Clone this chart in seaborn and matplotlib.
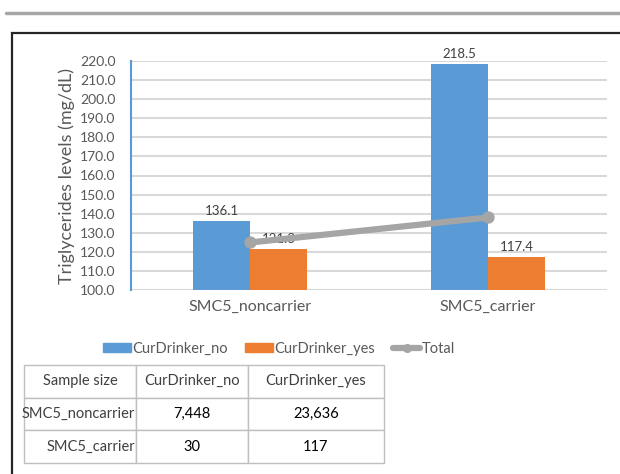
import matplotlib
matplotlib.use("Agg")
import matplotlib.pyplot as plt
import seaborn as sns
import pandas as pd
from matplotlib.lines import Line2D
from matplotlib.patches import Patch, Rectangle

# data
groups = ["SMC5_noncarrier", "SMC5_carrier"]
drinker = ["CurDrinker_no", "CurDrinker_yes"]
tg_no = [136.1, 218.5]
tg_yes = [121.3, 117.4]
tg_total = [124.9, 138.0]
n_no = ["7,448", "30"]
n_yes = ["23,636", "117"]
yticks = [100 + 10 * i for i in range(13)]

blue, orange, grey = "#5b9bd5", "#ed7d31", "#a5a5a5"

sns.set_theme(style="white")
plt.rcParams["font.family"] = ["Lato", "DejaVu Sans"]

bars = pd.DataFrame({
    "group": groups * 2,
    "drinker": [drinker[0]] * 2 + [drinker[1]] * 2,
    "value": tg_no + tg_yes,
})
tot = pd.DataFrame({"group": groups, "value": tg_total})

fig = plt.figure(figsize=(6.2, 4.74), dpi=100)
ax = fig.add_axes([131 / 620, 1 - 290 / 474, 476 / 620, 229 / 474])

sns.barplot(data=bars, x="group", y="value", hue="drinker", order=groups,
            hue_order=drinker, palette=[blue, orange], saturation=1,
            width=0.48, linewidth=0, ax=ax, legend=False, zorder=2)
for c in ax.containers:
    ax.bar_label(c, fmt="%.1f", padding=3, fontsize=9.5, color="#404040")

sns.pointplot(data=tot, x="group", y="value", order=groups, color=grey,
              markers="o", markersize=5.5, linewidth=4.5, ax=ax,
              solid_capstyle="round")
for ln in ax.lines:
    ln.set_zorder(4)

ax.set_ylim(100, 220)
ax.set_xlim(-0.5, 1.5)
ax.set_yticks(yticks)
ax.set_yticklabels([f"{v:.1f}" for v in yticks], fontsize=10, color="#595959")
ax.tick_params(axis="x", labelsize=11.5, labelcolor="#595959", length=0, pad=7)
ax.tick_params(axis="y", length=0, pad=11)
ax.yaxis.grid(True, color="#d9d9d9", linewidth=1.5, zorder=0)
ax.set_axisbelow(True)
for s in ["top", "right", "bottom"]:
    ax.spines[s].set_visible(False)
ax.spines["left"].set_color(blue)
ax.spines["left"].set_linewidth(1.5)
ax.set_xlabel("")
ax.set_ylabel("Triglycerides levels (mg/dL)", fontsize=13, color="#595959",
              labelpad=4)

handles = [Patch(color=blue), Patch(color=orange),
           Line2D([0], [0], color=grey, linewidth=4.5, marker="o",
                  markersize=5.5, solid_capstyle="round")]
fig.legend(handles, ["CurDrinker_no", "CurDrinker_yes", "Total"],
           loc="center", bbox_to_anchor=(279 / 620, 1 - 349 / 474), ncol=3,
           frameon=False, fontsize=10.5, handlelength=1.9, handleheight=0.6,
           handletextpad=0.1, columnspacing=1.2, labelcolor="#595959")

# sample size table
tax = fig.add_axes([24 / 620, 1 - 463 / 474, 360 / 620, 98 / 474])
tax.axis("off")
cells = [["Sample size", "CurDrinker_no", "CurDrinker_yes"]]
for g, a, b in zip(groups, n_no, n_yes):
    cells.append([g, a, b])
tbl = tax.table(cellText=cells, colWidths=[112 / 360, 112 / 360, 136 / 360],
                cellLoc="center", bbox=[0, 0, 1, 1])
tbl.auto_set_font_size(False)
for (r, c), cell in tbl.get_celld().items():
    cell.set_edgecolor("#bfbfbf")
    cell.set_linewidth(1)
    cell.get_text().set_fontsize(10.5)
    cell.get_text().set_color("#404040" if (r == 0 or c == 0) else "black")
    if c == 0 and r > 0:
        cell.get_text().set_horizontalalignment("right")
        cell.PAD = 0.01

# frame decoration
fig.add_artist(Line2D([6 / 620, 1], [1 - 12.5 / 474] * 2, color="#a6a6a6",
                      linewidth=2.5))
fig.add_artist(Rectangle((11.5 / 620, -0.1), 1.2, 1 - 33 / 474 + 0.1,
                         fill=False, edgecolor="#262626", linewidth=1.6))

fig.savefig("out.png", dpi=100)
